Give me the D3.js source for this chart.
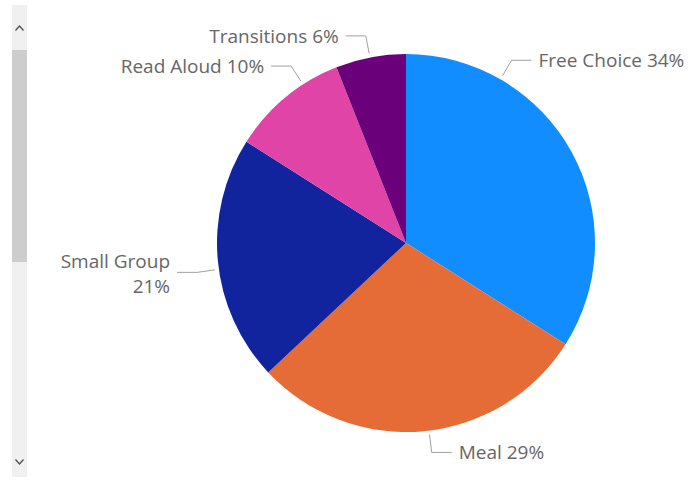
<!DOCTYPE html>
<html>
<head>
<meta charset="utf-8">
<script src="https://cdn.jsdelivr.net/npm/d3@7"></script>
<style>
  html, body { margin: 0; padding: 0; background: #fff; }
  svg { display: block; }
  text { font-family: "Segoe UI", "Open Sans", sans-serif; }
</style>
</head>
<body>
<svg id="chart" width="689" height="482"></svg>
<script>
// Share of classroom time by activity (percent)
const categories = ["Free Choice", "Meal", "Small Group", "Read Aloud", "Transitions"];
const values = [34, 29, 21, 10, 6];
const colors = ["#118DFF", "#E66C37", "#12239E", "#E044A7", "#6B007B"];
// Angle (degrees, clockwise from 12 o'clock) where each leader line leaves the pie
const labelAngles = [30, 173, 262, 327, 349];

const W = 689, H = 482;
const cx = 406, cy = 243, R = 189;

const svg = d3.select("#chart");

// Scrollbar strip on the left edge
const sb = svg.append("g");
sb.append("rect").attr("x", 12).attr("y", 5).attr("width", 15).attr("height", 472).attr("fill", "#f0f0f0");
sb.append("rect").attr("x", 12).attr("y", 50).attr("width", 15).attr("height", 212).attr("fill", "#cdcdcd");
sb.append("path").attr("d", "M15.5,30.5 L19.5,26 L23.5,30.5").attr("fill", "none").attr("stroke", "#505050").attr("stroke-width", 1.3);
sb.append("path").attr("d", "M15.5,459.5 L19.5,464 L23.5,459.5").attr("fill", "none").attr("stroke", "#505050").attr("stroke-width", 1.3);

const data = categories.map((c, i) => ({ name: c, value: values[i], color: colors[i], labelAngle: labelAngles[i] }));

const pie = d3.pie().value(d => d.value).sort(null);
const arc = d3.arc().innerRadius(0).outerRadius(R);
const arcs = pie(data);

const g = svg.append("g").attr("transform", `translate(${cx},${cy})`);

g.selectAll("path.slice")
  .data(arcs)
  .join("path")
  .attr("class", "slice")
  .attr("d", arc)
  .attr("fill", d => d.data.color);

// Leader lines and labels
const rad = Math.PI / 180;
const pt = (a, r) => [r * Math.sin(a * rad), -r * Math.cos(a * rad)];
const fontSize = 19;
const labelColor = "#666666";
const lineColor = "#a0a0a0";

arcs.forEach(d => {
  const a = d.data.labelAngle;
  const p0 = pt(a, R + 4);
  const p1 = pt(a, R + 22);
  const right = p1[0] >= 0;
  const p2 = [p1[0] + (right ? 20 : -20), p1[1]];
  g.append("path")
    .attr("d", d3.line()([p0, p1, p2]))
    .attr("fill", "none")
    .attr("stroke", lineColor)
    .attr("stroke-width", 1);

  const pct = Math.round(d.data.value) + "%";
  const tx = p2[0] + (right ? 7 : -7);
  const t = g.append("text")
    .attr("x", tx)
    .attr("y", p2[1])
    .attr("text-anchor", right ? "start" : "end")
    .attr("dominant-baseline", "central")
    .attr("font-size", fontSize)
    .attr("fill", labelColor)
    .text(d.data.name + " " + pct);

  // Wrap onto two lines when the label would run into the left edge
  const w = t.node().getComputedTextLength();
  const left = cx + (right ? tx : tx - w);
  if (left < 50) {
    t.text(null);
    t.append("tspan").attr("x", tx).attr("y", p2[1] - 11).text(d.data.name);
    t.append("tspan").attr("x", tx).attr("y", p2[1] + 14).text(pct);
  }
});
</script>
</body>
</html>
